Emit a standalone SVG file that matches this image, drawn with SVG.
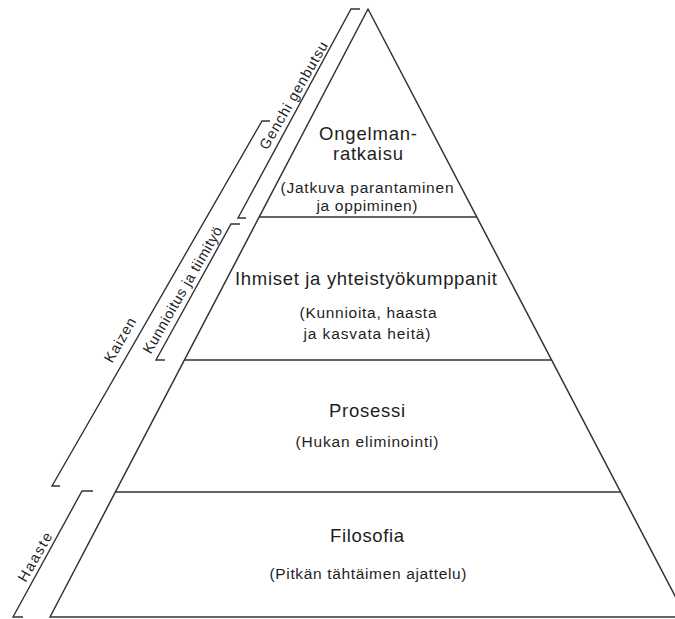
<svg xmlns="http://www.w3.org/2000/svg" width="675" height="619" viewBox="0 0 675 619">
  <style>
    .edge { fill: none; stroke: #333; stroke-width: 1.5; stroke-linejoin: miter; }
    .bracket { fill: none; stroke: #333; stroke-width: 1.4; }
    .title { font-family: "Liberation Sans", Arial, sans-serif; font-size: 18.5px; fill: #1e1e1e; text-anchor: middle; }
    .sub { font-family: "Liberation Sans", Arial, sans-serif; font-size: 15.5px; fill: #1e1e1e; text-anchor: middle; }
    .side { font-family: "Liberation Sans", Arial, sans-serif; font-size: 14.5px; fill: #1e1e1e; text-anchor: middle; dominant-baseline: central; }
  </style>
  <rect width="675" height="619" fill="#ffffff"/>

  <!-- pyramid outline and level dividers -->
  <g id="pyramid">
    <path class="edge" d="M50,617 L368,9 L686,617 Z"/>
  </g>

  <g id="level-ongelmanratkaisu">
    <line class="edge" x1="259.2" y1="217" x2="476.8" y2="217"/>
    <text class="title" x="368" y="140" textLength="98">Ongelman-</text>
    <text class="title" x="368" y="160" textLength="70">ratkaisu</text>
    <text class="sub" x="367" y="193" textLength="173">(Jatkuva parantaminen</text>
    <text class="sub" x="367" y="211" textLength="101">ja oppiminen)</text>
  </g>

  <g id="level-ihmiset">
    <line class="edge" x1="184.4" y1="360" x2="551.6" y2="360"/>
    <text class="title" x="366" y="285" textLength="262">Ihmiset ja yhteistyökumppanit</text>
    <text class="sub" x="368" y="318" textLength="137">(Kunnioita, haasta</text>
    <text class="sub" x="367" y="339" textLength="127">ja kasvata heitä)</text>
  </g>

  <g id="level-prosessi">
    <line class="edge" x1="115.4" y1="492" x2="620.6" y2="492"/>
    <text class="title" x="367" y="417" textLength="76">Prosessi</text>
    <text class="sub" x="367" y="447" textLength="143">(Hukan eliminointi)</text>
  </g>

  <g id="level-filosofia">
    <text class="title" x="367" y="542" textLength="74">Filosofia</text>
    <text class="sub" x="368" y="579" textLength="197">(Pitkän tähtäimen ajattelu)</text>
  </g>

  <!-- side brackets spanning groups of levels -->
  <g id="connectors">
    <path class="bracket" d="M360,9 L351,9 L238,218 L246,218"/>
    <path class="bracket" d="M240,224 L231,224 L156,360 L165,360"/>
    <path class="bracket" d="M270,121 L262,121 L52,486 L60,486"/>
    <path class="bracket" d="M93,491 L82,491 L13,617 L23,617"/>
  </g>

  <g id="label-genchi">
    <text class="side" transform="translate(293.5,95.5) rotate(-60)" textLength="122">Genchi genbutsu</text>
  </g>
  <g id="label-kunnioitus">
    <text class="side" transform="translate(182.5,290) rotate(-60)" textLength="144">Kunnioitus ja tiimityö</text>
  </g>
  <g id="label-kaizen">
    <text class="side" transform="translate(120,340) rotate(-60)" textLength="49">Kaizen</text>
  </g>
  <g id="label-haaste">
    <text class="side" transform="translate(35,557) rotate(-60)" textLength="54">Haaste</text>
  </g>
</svg>
